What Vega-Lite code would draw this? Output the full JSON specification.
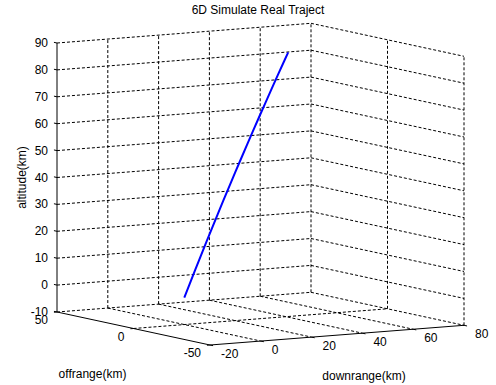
{
  "$schema": "https://vega.github.io/schema/vega-lite/v6.json",
  "width": 496,
  "height": 365,
  "autosize": {"type": "none"},
  "padding": {"left": 0, "right": 0, "top": 20, "bottom": 0},
  "background": "white",
  "title": {"text": "6D Simulate Real Traject", "font": "Liberation Sans", "fontSize": 12, "fontWeight": "normal", "color": "black", "anchor": "middle", "dx": 10, "offset": 3},
  "config": {"view": {"stroke": null}, "font": "Liberation Sans"},
  "datasets": {
    "grid": [
      {"d1": 0, "o1": 50, "z1": -10, "d2": 0, "o2": 50, "z2": 90},
      {"d1": 20, "o1": 50, "z1": -10, "d2": 20, "o2": 50, "z2": 90},
      {"d1": 40, "o1": 50, "z1": -10, "d2": 40, "o2": 50, "z2": 90},
      {"d1": 60, "o1": 50, "z1": -10, "d2": 60, "o2": 50, "z2": 90},
      {"d1": 80, "o1": 50, "z1": -10, "d2": 80, "o2": 50, "z2": 90},
      {"d1": 80, "o1": 0, "z1": -10, "d2": 80, "o2": 0, "z2": 90},
      {"d1": 80, "o1": -50, "z1": -10, "d2": 80, "o2": -50, "z2": 90},
      {"d1": -20, "o1": 50, "z1": -10, "d2": 80, "o2": 50, "z2": -10},
      {"d1": -20, "o1": 50, "z1": 0, "d2": 80, "o2": 50, "z2": 0},
      {"d1": -20, "o1": 50, "z1": 10, "d2": 80, "o2": 50, "z2": 10},
      {"d1": -20, "o1": 50, "z1": 20, "d2": 80, "o2": 50, "z2": 20},
      {"d1": -20, "o1": 50, "z1": 30, "d2": 80, "o2": 50, "z2": 30},
      {"d1": -20, "o1": 50, "z1": 40, "d2": 80, "o2": 50, "z2": 40},
      {"d1": -20, "o1": 50, "z1": 50, "d2": 80, "o2": 50, "z2": 50},
      {"d1": -20, "o1": 50, "z1": 60, "d2": 80, "o2": 50, "z2": 60},
      {"d1": -20, "o1": 50, "z1": 70, "d2": 80, "o2": 50, "z2": 70},
      {"d1": -20, "o1": 50, "z1": 80, "d2": 80, "o2": 50, "z2": 80},
      {"d1": -20, "o1": 50, "z1": 90, "d2": 80, "o2": 50, "z2": 90},
      {"d1": 80, "o1": 50, "z1": -10, "d2": 80, "o2": -50, "z2": -10},
      {"d1": 80, "o1": 50, "z1": 0, "d2": 80, "o2": -50, "z2": 0},
      {"d1": 80, "o1": 50, "z1": 10, "d2": 80, "o2": -50, "z2": 10},
      {"d1": 80, "o1": 50, "z1": 20, "d2": 80, "o2": -50, "z2": 20},
      {"d1": 80, "o1": 50, "z1": 30, "d2": 80, "o2": -50, "z2": 30},
      {"d1": 80, "o1": 50, "z1": 40, "d2": 80, "o2": -50, "z2": 40},
      {"d1": 80, "o1": 50, "z1": 50, "d2": 80, "o2": -50, "z2": 50},
      {"d1": 80, "o1": 50, "z1": 60, "d2": 80, "o2": -50, "z2": 60},
      {"d1": 80, "o1": 50, "z1": 70, "d2": 80, "o2": -50, "z2": 70},
      {"d1": 80, "o1": 50, "z1": 80, "d2": 80, "o2": -50, "z2": 80},
      {"d1": 80, "o1": 50, "z1": 90, "d2": 80, "o2": -50, "z2": 90},
      {"d1": 0, "o1": 50, "z1": -10, "d2": 0, "o2": -50, "z2": -10},
      {"d1": 20, "o1": 50, "z1": -10, "d2": 20, "o2": -50, "z2": -10},
      {"d1": 40, "o1": 50, "z1": -10, "d2": 40, "o2": -50, "z2": -10},
      {"d1": 60, "o1": 50, "z1": -10, "d2": 60, "o2": -50, "z2": -10},
      {"d1": -20, "o1": 0, "z1": -10, "d2": 80, "o2": 0, "z2": -10}
    ],
    "axes": [
      {"d1": -20, "o1": 50, "z1": -10, "d2": -20, "o2": 50, "z2": 90},
      {"d1": -20, "o1": 50, "z1": -10, "d2": -20, "o2": -50, "z2": -10},
      {"d1": -20, "o1": -50, "z1": -10, "d2": 80, "o2": -50, "z2": -10}
    ],
    "ticks": [
      {"axis": "z", "d": -20, "o": 50, "z": -10},
      {"axis": "z", "d": -20, "o": 50, "z": 0},
      {"axis": "z", "d": -20, "o": 50, "z": 10},
      {"axis": "z", "d": -20, "o": 50, "z": 20},
      {"axis": "z", "d": -20, "o": 50, "z": 30},
      {"axis": "z", "d": -20, "o": 50, "z": 40},
      {"axis": "z", "d": -20, "o": 50, "z": 50},
      {"axis": "z", "d": -20, "o": 50, "z": 60},
      {"axis": "z", "d": -20, "o": 50, "z": 70},
      {"axis": "z", "d": -20, "o": 50, "z": 80},
      {"axis": "z", "d": -20, "o": 50, "z": 90},
      {"axis": "o", "d": -20, "o": 50, "z": -10},
      {"axis": "o", "d": -20, "o": 0, "z": -10},
      {"axis": "o", "d": -20, "o": -50, "z": -10},
      {"axis": "d", "d": -20, "o": -50, "z": -10},
      {"axis": "d", "d": 0, "o": -50, "z": -10},
      {"axis": "d", "d": 20, "o": -50, "z": -10},
      {"axis": "d", "d": 40, "o": -50, "z": -10},
      {"axis": "d", "d": 60, "o": -50, "z": -10},
      {"axis": "d", "d": 80, "o": -50, "z": -10}
    ],
    "traj": [
      {"d": 0, "o": 0, "z": 0},
      {"d": 2.13, "o": 0, "z": 5},
      {"d": 4.29, "o": 0, "z": 10},
      {"d": 6.46, "o": 0, "z": 15},
      {"d": 8.66, "o": 0, "z": 20},
      {"d": 10.88, "o": 0, "z": 25},
      {"d": 13.13, "o": 0, "z": 30},
      {"d": 15.39, "o": 0, "z": 35},
      {"d": 17.68, "o": 0, "z": 40},
      {"d": 19.99, "o": 0, "z": 45},
      {"d": 22.33, "o": 0, "z": 50},
      {"d": 24.68, "o": 0, "z": 55},
      {"d": 27.06, "o": 0, "z": 60},
      {"d": 29.46, "o": 0, "z": 65},
      {"d": 31.89, "o": 0, "z": 70},
      {"d": 34.33, "o": 0, "z": 75},
      {"d": 36.8, "o": 0, "z": 80},
      {"d": 39.29, "o": 0, "z": 85},
      {"d": 40.9, "o": 0, "z": 88.2}
    ]
  },
  "layer": [
    {
      "data": {"name": "grid"},
      "transform": [
        {"calculate": "2.54*datum.d1 - 1.53*datum.o1", "as": "px"},
        {"calculate": "0.197*datum.d1 + 0.33*datum.o1 + 2.69*datum.z1", "as": "py"},
        {"calculate": "2.54*datum.d2 - 1.53*datum.o2", "as": "px2"},
        {"calculate": "0.197*datum.d2 + 0.33*datum.o2 + 2.69*datum.z2", "as": "py2"}
      ],
      "mark": {"type": "rule", "color": "black", "strokeWidth": 1, "strokeDash": [3, 2]},
      "encoding": {
        "x": {"field": "px", "type": "quantitative", "scale": {"domain": [-184.3, 311.7], "nice": false, "zero": false}, "axis": null},
        "y": {"field": "py", "type": "quantitative", "scale": {"domain": [-87.34, 277.66], "nice": false, "zero": false}, "axis": null},
        "x2": {"field": "px2"},
        "y2": {"field": "py2"}
      }
    },
    {
      "data": {"name": "axes"},
      "transform": [
        {"calculate": "2.54*datum.d1 - 1.53*datum.o1", "as": "px"},
        {"calculate": "0.197*datum.d1 + 0.33*datum.o1 + 2.69*datum.z1", "as": "py"},
        {"calculate": "2.54*datum.d2 - 1.53*datum.o2", "as": "px2"},
        {"calculate": "0.197*datum.d2 + 0.33*datum.o2 + 2.69*datum.z2", "as": "py2"}
      ],
      "mark": {"type": "rule", "color": "black", "strokeWidth": 1},
      "encoding": {
        "x": {"field": "px", "type": "quantitative", "scale": {"domain": [-184.3, 311.7], "nice": false, "zero": false}, "axis": null},
        "y": {"field": "py", "type": "quantitative", "scale": {"domain": [-87.34, 277.66], "nice": false, "zero": false}, "axis": null},
        "x2": {"field": "px2"},
        "y2": {"field": "py2"}
      }
    },
    {
      "data": {"name": "ticks"},
      "transform": [
        {"calculate": "datum.d - (datum.axis == 'o' ? 1.2 : 0)", "as": "dt"},
        {"calculate": "datum.o + (datum.axis == 'z' ? 2 : 0) - (datum.axis == 'd' ? 2 : 0)", "as": "ot"},
        {"calculate": "2.54*datum.d - 1.53*datum.o", "as": "px"},
        {"calculate": "0.197*datum.d + 0.33*datum.o + 2.69*datum.z", "as": "py"},
        {"calculate": "2.54*datum.dt - 1.53*datum.ot", "as": "px2"},
        {"calculate": "0.197*datum.dt + 0.33*datum.ot + 2.69*datum.z", "as": "py2"}
      ],
      "mark": {"type": "rule", "color": "black", "strokeWidth": 1},
      "encoding": {
        "x": {"field": "px", "type": "quantitative", "scale": {"domain": [-184.3, 311.7], "nice": false, "zero": false}, "axis": null},
        "y": {"field": "py", "type": "quantitative", "scale": {"domain": [-87.34, 277.66], "nice": false, "zero": false}, "axis": null},
        "x2": {"field": "px2"},
        "y2": {"field": "py2"}
      }
    },
    {
      "data": {"name": "traj"},
      "transform": [
        {"calculate": "2.54*datum.d - 1.53*datum.o", "as": "px"},
        {"calculate": "0.197*datum.d + 0.33*datum.o + 2.69*datum.z", "as": "py"}
      ],
      "mark": {"type": "line", "color": "#0000ff", "strokeWidth": 2},
      "encoding": {
        "x": {"field": "px", "type": "quantitative", "scale": {"domain": [-184.3, 311.7], "nice": false, "zero": false}, "axis": null},
        "y": {"field": "py", "type": "quantitative", "scale": {"domain": [-87.34, 277.66], "nice": false, "zero": false}, "axis": null},
        "order": {"field": "z", "type": "quantitative"}
      }
    },
    {
      "data": {"name": "ticks"},
      "transform": [
        {"filter": "datum.axis == 'z'"},
        {"calculate": "2.54*datum.d - 1.53*datum.o", "as": "px"},
        {"calculate": "0.197*datum.d + 0.33*datum.o + 2.69*datum.z", "as": "py"}
      ],
      "mark": {"type": "text", "align": "right", "baseline": "middle", "dx": -9, "fontSize": 12, "color": "black", "font": "Liberation Sans"},
      "encoding": {
        "x": {"field": "px", "type": "quantitative", "scale": {"domain": [-184.3, 311.7], "nice": false, "zero": false}, "axis": null},
        "y": {"field": "py", "type": "quantitative", "scale": {"domain": [-87.34, 277.66], "nice": false, "zero": false}, "axis": null},
        "text": {"field": "z", "type": "nominal"}
      }
    },
    {
      "data": {"name": "ticks"},
      "transform": [
        {"filter": "datum.axis == 'o'"},
        {"calculate": "2.54*datum.d - 1.53*datum.o", "as": "px"},
        {"calculate": "0.197*datum.d + 0.33*datum.o + 2.69*datum.z", "as": "py"}
      ],
      "mark": {"type": "text", "align": "right", "baseline": "middle", "dx": -9, "dy": 8, "fontSize": 12, "color": "black", "font": "Liberation Sans"},
      "encoding": {
        "x": {"field": "px", "type": "quantitative", "scale": {"domain": [-184.3, 311.7], "nice": false, "zero": false}, "axis": null},
        "y": {"field": "py", "type": "quantitative", "scale": {"domain": [-87.34, 277.66], "nice": false, "zero": false}, "axis": null},
        "text": {"field": "o", "type": "nominal"}
      }
    },
    {
      "data": {"name": "ticks"},
      "transform": [
        {"filter": "datum.axis == 'd'"},
        {"calculate": "2.54*datum.d - 1.53*datum.o", "as": "px"},
        {"calculate": "0.197*datum.d + 0.33*datum.o + 2.69*datum.z", "as": "py"}
      ],
      "mark": {"type": "text", "align": "left", "baseline": "middle", "dx": 11, "dy": 9, "fontSize": 12, "color": "black", "font": "Liberation Sans"},
      "encoding": {
        "x": {"field": "px", "type": "quantitative", "scale": {"domain": [-184.3, 311.7], "nice": false, "zero": false}, "axis": null},
        "y": {"field": "py", "type": "quantitative", "scale": {"domain": [-87.34, 277.66], "nice": false, "zero": false}, "axis": null},
        "text": {"field": "d", "type": "nominal"}
      }
    },
    {
      "data": {"values": [{"d": -20, "o": 50, "z": 40, "label": "altitude(km)"}]},
      "transform": [
        {"calculate": "2.54*datum.d - 1.53*datum.o", "as": "px"},
        {"calculate": "0.197*datum.d + 0.33*datum.o + 2.69*datum.z", "as": "py"}
      ],
      "mark": {"type": "text", "angle": 270, "align": "center", "baseline": "middle", "dy": -35, "fontSize": 12, "color": "black", "font": "Liberation Sans"},
      "encoding": {
        "x": {"field": "px", "type": "quantitative", "scale": {"domain": [-184.3, 311.7], "nice": false, "zero": false}, "axis": null},
        "y": {"field": "py", "type": "quantitative", "scale": {"domain": [-87.34, 277.66], "nice": false, "zero": false}, "axis": null},
        "text": {"field": "label", "type": "nominal"}
      }
    },
    {
      "data": {"values": [{"d": -20, "o": 0, "z": -10, "label": "offrange(km)"}]},
      "transform": [
        {"calculate": "2.54*datum.d - 1.53*datum.o", "as": "px"},
        {"calculate": "0.197*datum.d + 0.33*datum.o + 2.69*datum.z", "as": "py"}
      ],
      "mark": {"type": "text", "align": "center", "baseline": "middle", "dx": -41, "dy": 45, "fontSize": 12, "color": "black", "font": "Liberation Sans"},
      "encoding": {
        "x": {"field": "px", "type": "quantitative", "scale": {"domain": [-184.3, 311.7], "nice": false, "zero": false}, "axis": null},
        "y": {"field": "py", "type": "quantitative", "scale": {"domain": [-87.34, 277.66], "nice": false, "zero": false}, "axis": null},
        "text": {"field": "label", "type": "nominal"}
      }
    },
    {
      "data": {"values": [{"d": 30, "o": -50, "z": -10, "label": "downrange(km)"}]},
      "transform": [
        {"calculate": "2.54*datum.d - 1.53*datum.o", "as": "px"},
        {"calculate": "0.197*datum.d + 0.33*datum.o + 2.69*datum.z", "as": "py"}
      ],
      "mark": {"type": "text", "align": "center", "baseline": "middle", "dx": 27, "dy": 41, "fontSize": 12, "color": "black", "font": "Liberation Sans"},
      "encoding": {
        "x": {"field": "px", "type": "quantitative", "scale": {"domain": [-184.3, 311.7], "nice": false, "zero": false}, "axis": null},
        "y": {"field": "py", "type": "quantitative", "scale": {"domain": [-87.34, 277.66], "nice": false, "zero": false}, "axis": null},
        "text": {"field": "label", "type": "nominal"}
      }
    }
  ]
}
